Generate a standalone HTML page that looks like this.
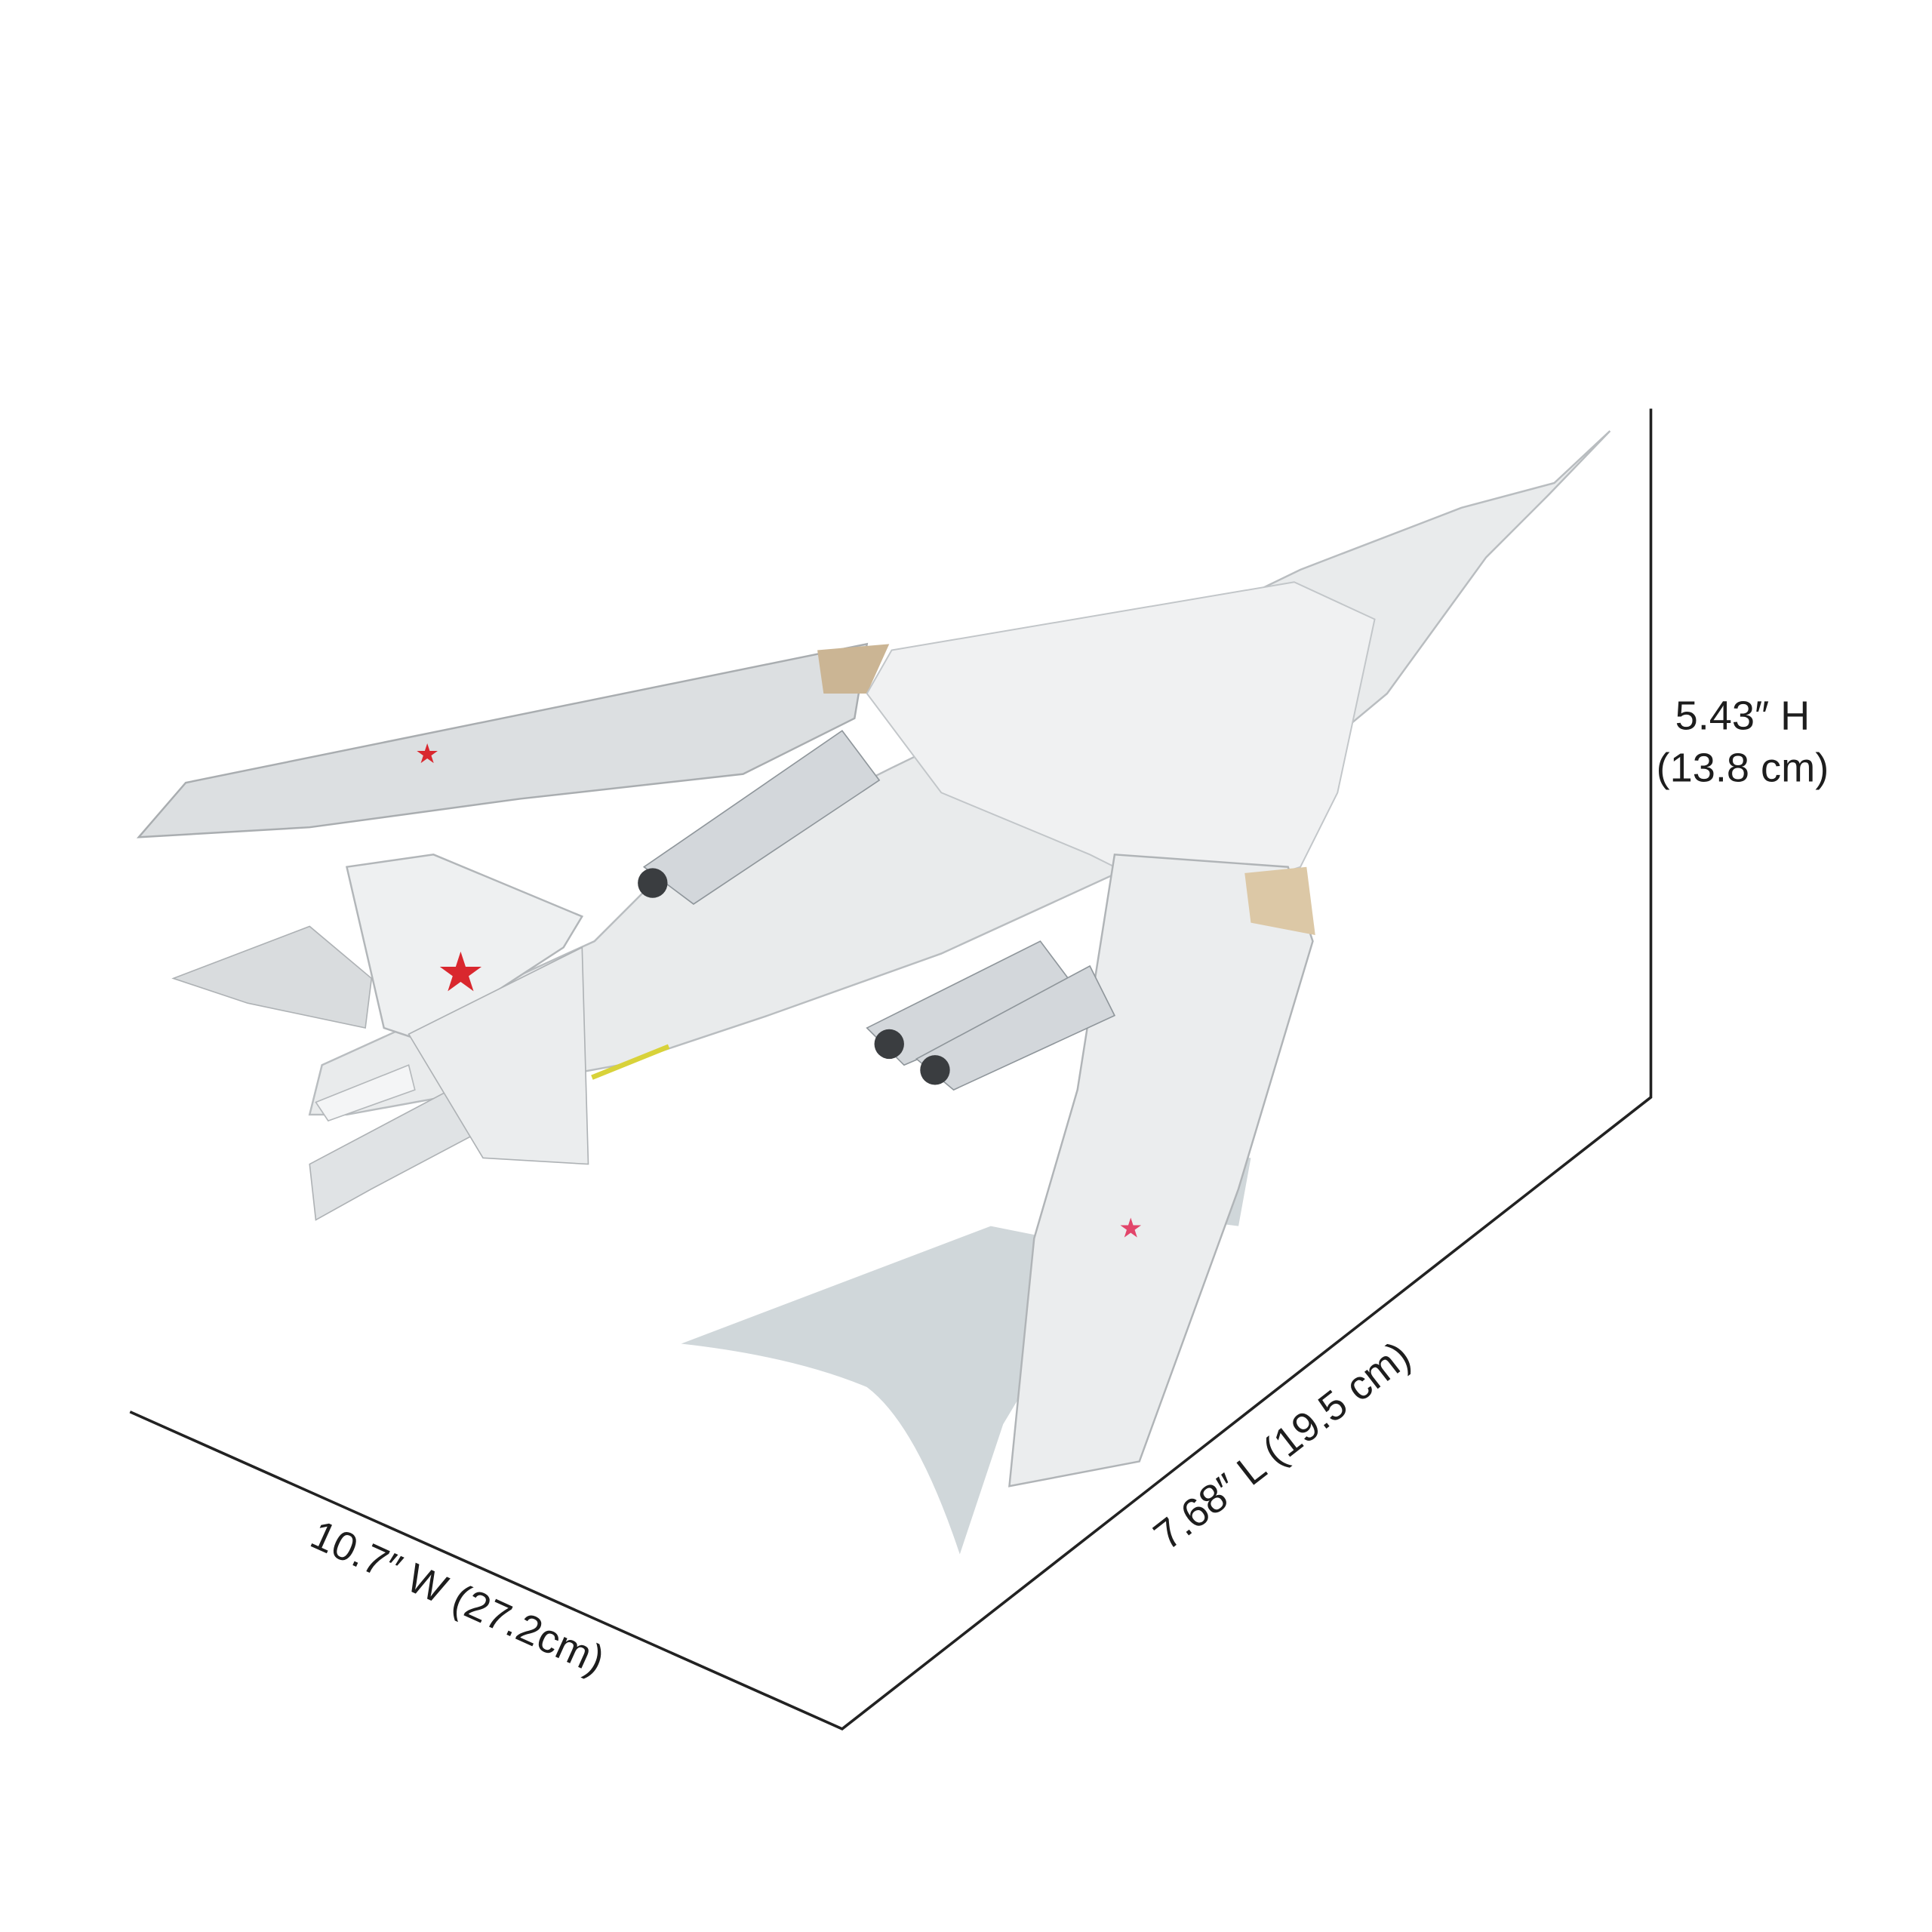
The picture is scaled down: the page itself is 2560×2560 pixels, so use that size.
<!DOCTYPE html>
<html><head><style>html,body{margin:0;padding:0;background:#fff}svg{display:block}</style></head>
<body>
<svg width="2560" height="2560" viewBox="0 0 1560 1560" xmlns="http://www.w3.org/2000/svg" font-family="'Liberation Sans',sans-serif">
<rect width="1560" height="1560" fill="#fff"/>
<!-- stand -->
<path d="M550,1085 L800,990 L850,1000 L870,1050 L810,1150 L775,1255 Q740,1150 700,1120 Q640,1095 550,1085 Z" fill="#d0d7da"/>
<path d="M965,930 L1010,935 L1000,990 L960,985Z" fill="#d0d7da"/>
<!-- upper wing -->
<path d="M112,676 L150,632 L700,520 L690,580 L600,625 L420,645 L250,668 Z" fill="#dcdfe1" stroke="#a9adb0" stroke-width="1.5"/>
<path d="M660,525 L718,520 L700,560 L665,560Z" fill="#cbb594"/>
<!-- fuselage -->
<path d="M1300,348 L1255,390 L1180,410 L1050,460 L720,620 L520,720 L480,760 L260,860 L250,900 L280,900 L500,860 L620,820 L760,770 L1000,660 L1120,560 L1200,450 L1250,400 Z" fill="#e9ebec" stroke="#b9bdc0" stroke-width="1.5"/>
<path d="M250,940 L420,850 L470,870 L300,960 L255,985Z" fill="#e0e3e5" stroke="#aeb2b5"/>
<!-- glove / delta -->
<path d="M1045,470 L1110,500 L1080,640 L1050,700 L960,730 L880,690 L760,640 L700,560 L720,525 Z" fill="#f0f1f2" stroke="#c2c6c9" stroke-width="1.2"/>
<!-- lower wing -->
<path d="M900,690 L1040,700 L1060,760 L1000,960 L920,1180 L815,1200 L835,1000 L870,880 Z" fill="#ebedee" stroke="#b0b4b7" stroke-width="1.5"/>
<path d="M1005,705 L1055,700 L1062,755 L1010,745Z" fill="#dcc8a6"/>
<!-- engines -->
<g fill="#d3d7db" stroke="#8f969b">
<path d="M520,700 L680,590 L710,630 L560,730 Z"/>
<path d="M700,830 L840,760 L870,800 L730,860 Z"/>
<path d="M740,855 L880,780 L900,820 L770,880 Z"/>
</g>
<g fill="#3a3d40"><circle cx="527" cy="713" r="12"/><circle cx="718" cy="843" r="12"/><circle cx="755" cy="864" r="12"/></g>
<!-- tail -->
<path d="M280,700 L350,690 L470,740 L455,765 L340,840 L310,830 Z" fill="#eef0f1" stroke="#b2b6b9" stroke-width="1.5"/>
<path d="M140,790 L250,748 L300,790 L295,830 L200,810Z" fill="#d9dcde" stroke="#aeb2b5"/>
<path d="M330,835 L470,765 L475,940 L390,935Z" fill="#ebedee" stroke="#aeb2b5"/>
<path d="M255,890 L330,860 L335,880 L265,905Z" fill="#f4f5f6" stroke="#b4b8bb"/>
<line x1="478" y1="870" x2="540" y2="845" stroke="#d8d23a" stroke-width="4"/>
<!-- stars -->
<g fill="#d9272e">
<text x="345" y="616" font-size="22" text-anchor="middle">★</text>
<text x="372" y="800" font-size="44" text-anchor="middle">★</text>
<text x="913" y="999" font-size="22" text-anchor="middle" fill="#e2456a">★</text>
</g>
<!-- dimension lines -->
<g stroke="#222" stroke-width="2.2" fill="none">
<polyline points="1333,330 1333,886 680,1396 105,1140"/>
</g>
<g fill="#1d1d1d" font-size="33">
<text x="1407" y="589" text-anchor="middle">5.43″ H</text>
<text x="1407" y="631" text-anchor="middle">(13.8 cm)</text>
<text transform="translate(365,1300) rotate(24.3)" text-anchor="middle">10.7″ W (27.2cm)</text>
<text transform="translate(1042,1176) rotate(-37.8)" text-anchor="middle">7.68″ L (19.5 cm)</text>
</g>
</svg>
</body></html>
